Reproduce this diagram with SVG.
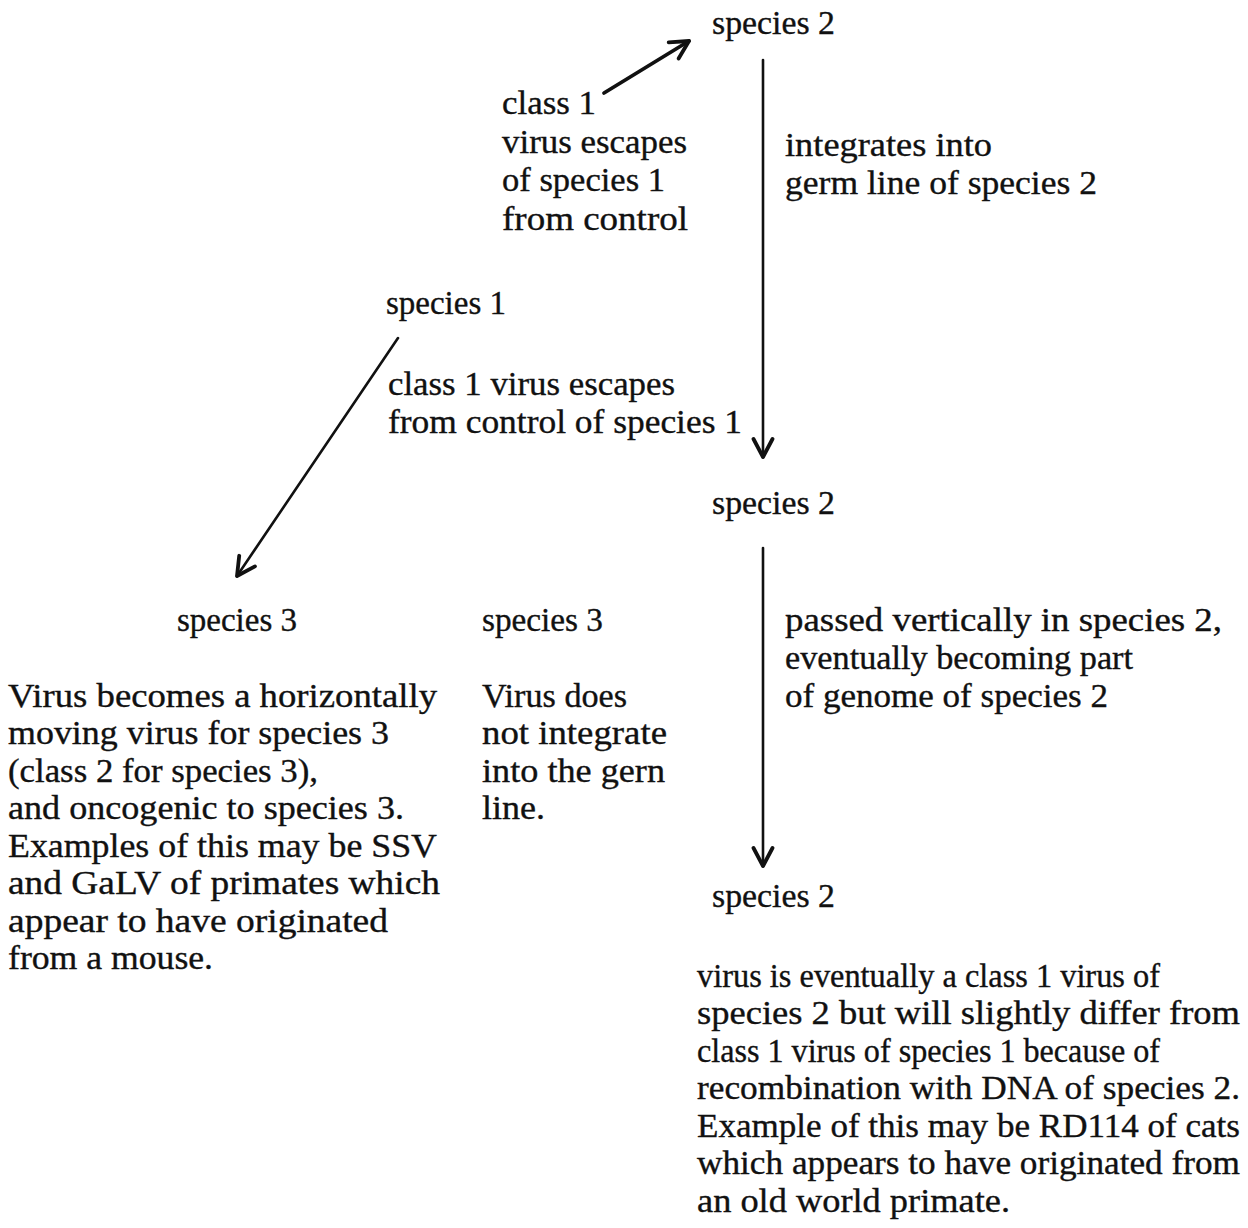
<svg xmlns="http://www.w3.org/2000/svg" width="1248" height="1228" viewBox="0 0 1248 1228">
<style>
text{font-family:"Liberation Serif","Times New Roman",serif;font-size:33px;fill:#111;stroke:#111;stroke-width:0.35;}
.c{fill:none;stroke:#111;stroke-width:2.6;stroke-linecap:round;}
.t{stroke-width:3.8;}
</style>
<defs>
<marker id="ah" viewBox="0 0 24 24" refX="21" refY="12" markerWidth="24" markerHeight="24" markerUnits="userSpaceOnUse" orient="auto">
<path d="M3,2.5 L21,12 L3,21.5" fill="none" stroke="#111" stroke-width="3.8" stroke-linecap="round" stroke-linejoin="round"/>
</marker>
</defs>
<rect width="1248" height="1228" fill="#fff"/>
<g id="connectors">
<path class="c t" d="M604,93 L689,41" marker-end="url(#ah)"/>
<path class="c" d="M763,60 L763,457" marker-end="url(#ah)"/>
<path class="c" d="M398,338 L237,576" marker-end="url(#ah)"/>
<path class="c" d="M763,548 L763,866" marker-end="url(#ah)"/>
</g>
<g id="species2-top"><text x="712" y="34" textLength="123" lengthAdjust="spacingAndGlyphs">species 2</text></g>
<g id="label-escape-top">
<text x="502" y="114" textLength="94" lengthAdjust="spacingAndGlyphs">class 1</text>
<text x="502" y="153" textLength="185" lengthAdjust="spacingAndGlyphs">virus escapes</text>
<text x="502" y="191" textLength="163" lengthAdjust="spacingAndGlyphs">of species 1</text>
<text x="502" y="230" textLength="186" lengthAdjust="spacingAndGlyphs">from control</text>
</g>
<g id="label-integrates">
<text x="785" y="156" textLength="207" lengthAdjust="spacingAndGlyphs">integrates into</text>
<text x="785" y="194" textLength="312" lengthAdjust="spacingAndGlyphs">germ line of species 2</text>
</g>
<g id="species1"><text x="386" y="314" textLength="120" lengthAdjust="spacingAndGlyphs">species 1</text></g>
<g id="label-escape-mid">
<text x="388" y="395" textLength="287" lengthAdjust="spacingAndGlyphs">class 1 virus escapes</text>
<text x="388" y="433" textLength="354" lengthAdjust="spacingAndGlyphs">from control of species 1</text>
</g>
<g id="species2-mid"><text x="712" y="514" textLength="123" lengthAdjust="spacingAndGlyphs">species 2</text></g>
<g id="species3-left"><text x="177" y="631" textLength="120" lengthAdjust="spacingAndGlyphs">species 3</text></g>
<g id="species3-mid"><text x="482" y="631" textLength="121" lengthAdjust="spacingAndGlyphs">species 3</text></g>
<g id="label-passed">
<text x="785" y="631" textLength="437" lengthAdjust="spacingAndGlyphs">passed vertically in species 2,</text>
<text x="785" y="669" textLength="348" lengthAdjust="spacingAndGlyphs">eventually becoming part</text>
<text x="785" y="707" textLength="323" lengthAdjust="spacingAndGlyphs">of genome of species 2</text>
</g>
<g id="note-species3-left">
<text x="8" y="707" textLength="429" lengthAdjust="spacingAndGlyphs">Virus becomes a horizontally</text>
<text x="8" y="744" textLength="381" lengthAdjust="spacingAndGlyphs">moving virus for species 3</text>
<text x="8" y="782" textLength="310" lengthAdjust="spacingAndGlyphs">(class 2 for species 3),</text>
<text x="8" y="819" textLength="396" lengthAdjust="spacingAndGlyphs">and oncogenic to species 3.</text>
<text x="8" y="857" textLength="429" lengthAdjust="spacingAndGlyphs">Examples of this may be SSV</text>
<text x="8" y="894" textLength="432" lengthAdjust="spacingAndGlyphs">and GaLV of primates which</text>
<text x="8" y="932" textLength="380" lengthAdjust="spacingAndGlyphs">appear to have originated</text>
<text x="8" y="969" textLength="205" lengthAdjust="spacingAndGlyphs">from a mouse.</text>
</g>
<g id="note-species3-mid">
<text x="482" y="707" textLength="145" lengthAdjust="spacingAndGlyphs">Virus does</text>
<text x="482" y="744" textLength="185" lengthAdjust="spacingAndGlyphs">not integrate</text>
<text x="482" y="782" textLength="183" lengthAdjust="spacingAndGlyphs">into the gern</text>
<text x="482" y="819" textLength="63" lengthAdjust="spacingAndGlyphs">line.</text>
</g>
<g id="species2-bottom"><text x="712" y="907" textLength="123" lengthAdjust="spacingAndGlyphs">species 2</text></g>
<g id="note-species2-bottom">
<text x="697" y="987" textLength="463" lengthAdjust="spacingAndGlyphs">virus is eventually a class 1 virus of</text>
<text x="697" y="1024" textLength="543" lengthAdjust="spacingAndGlyphs">species 2 but will slightly differ from</text>
<text x="697" y="1062" textLength="463" lengthAdjust="spacingAndGlyphs">class 1 virus of species 1 because of</text>
<text x="697" y="1099" textLength="543" lengthAdjust="spacingAndGlyphs">recombination with DNA of species 2.</text>
<text x="697" y="1137" textLength="543" lengthAdjust="spacingAndGlyphs">Example of this may be RD114 of cats</text>
<text x="697" y="1174" textLength="543" lengthAdjust="spacingAndGlyphs">which appears to have originated from</text>
<text x="697" y="1212" textLength="313" lengthAdjust="spacingAndGlyphs">an old world primate.</text>
</g>
</svg>
